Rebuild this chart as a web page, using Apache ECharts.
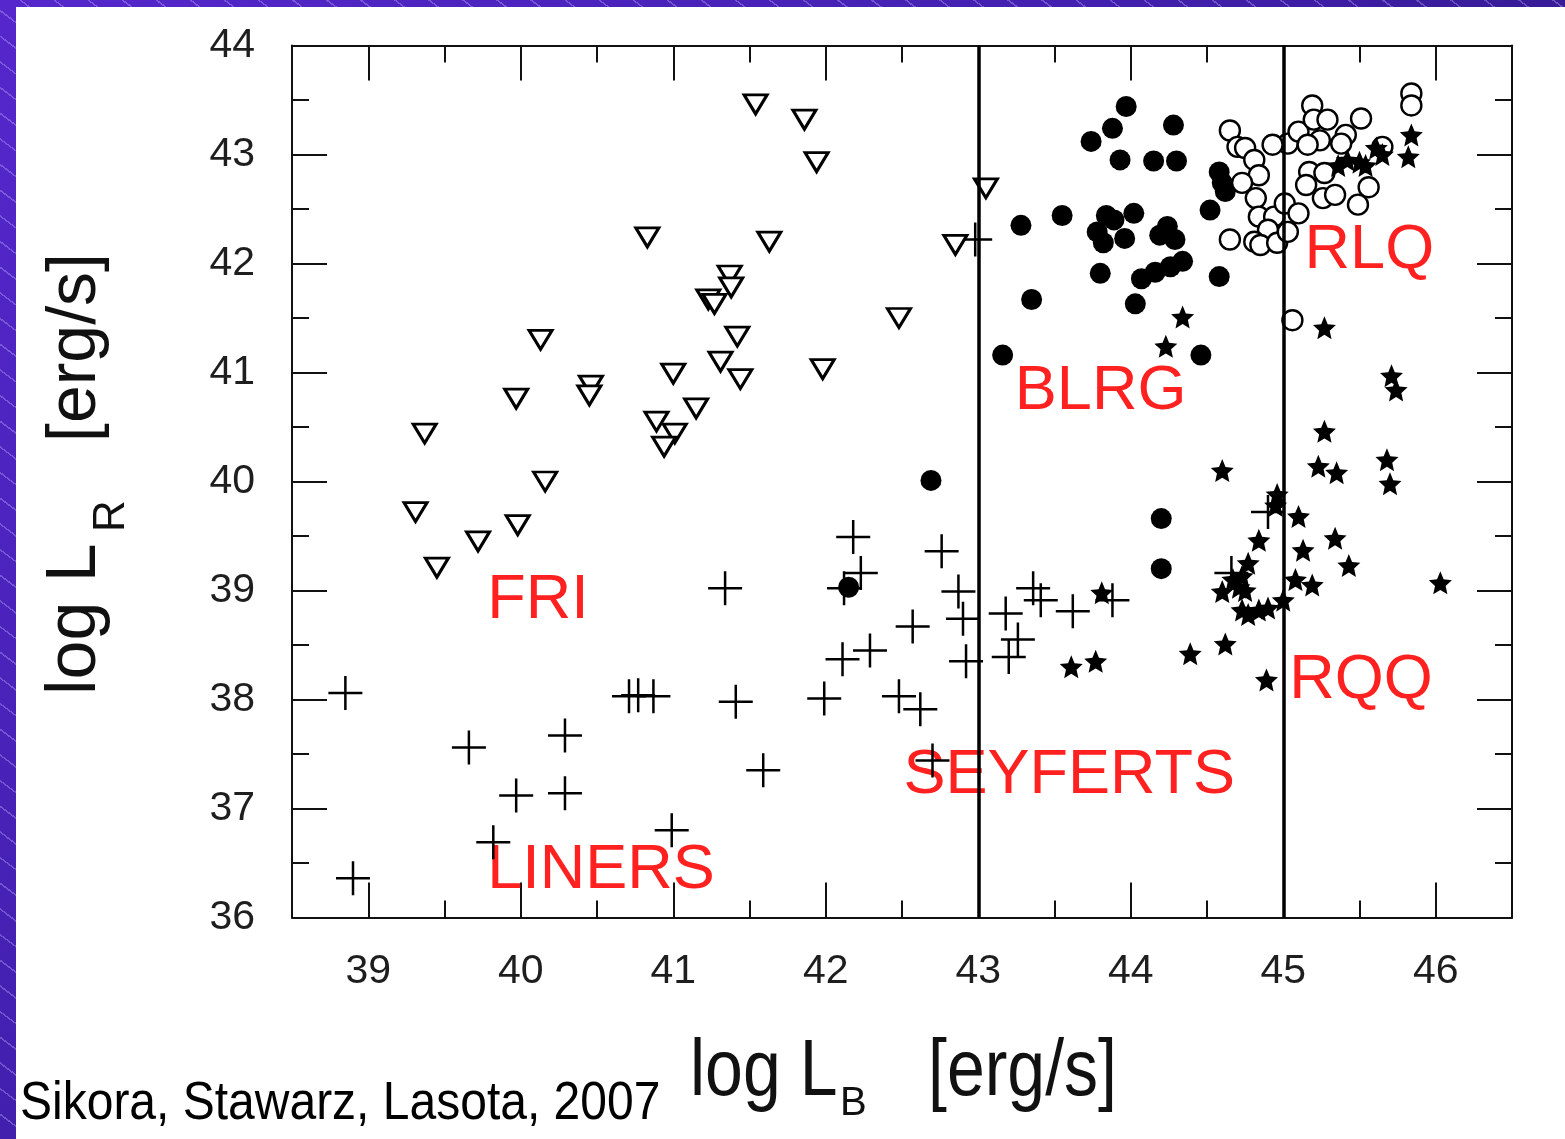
<!DOCTYPE html>
<html><head><meta charset="utf-8">
<script src="https://cdn.jsdelivr.net/npm/echarts@6/dist/echarts.min.js"></script>
<style>
html,body{margin:0;padding:0;width:1565px;height:1139px;overflow:hidden;}
body{background:
  repeating-linear-gradient(37deg, rgba(255,255,255,0) 0px, rgba(255,255,255,0) 19px, rgba(200,185,255,0.35) 19px, rgba(200,185,255,0.35) 20.5px),
  linear-gradient(135deg,#5527cc 0%,#4320b0 40%,#2c1680 75%,#22125f 100%);}
#paper{position:absolute;left:16px;top:7px;width:1549px;height:1132px;background:#fff;}
#chart{position:absolute;left:0;top:0;width:1565px;height:1139px;}
</style></head><body><div id="paper"></div><div id="chart"></div>
<script>
// ---- data (log L_B, log L_R) ----
const friData = [[41.54,43.46],[41.86,43.32],[41.94,42.93],[43.05,42.69],[40.83,42.24],[41.63,42.20],[42.85,42.17],[41.37,41.89],[41.38,41.78],[41.23,41.67],[41.27,41.63],[42.48,41.50],[40.13,41.30],[41.42,41.33],[41.31,41.10],[41.98,41.03],[41.00,40.99],[41.44,40.94],[40.46,40.88],[40.45,40.79],[39.97,40.76],[41.15,40.67],[39.37,40.44],[40.89,40.55],[41.01,40.44],[40.94,40.32],[40.16,40.00],[39.31,39.72],[39.98,39.60],[39.72,39.45],[39.45,39.21]];
const crossData = [[38.85,38.06],[39.66,37.56],[40.29,37.67],[39.97,37.12],[40.29,37.14],[39.82,36.69],[38.90,36.36],[40.99,36.80],[40.71,38.03],[40.77,38.04],[40.87,38.03],[41.41,37.98],[41.59,37.35],[41.34,39.02],[42.18,39.49],[42.23,39.16],[42.12,39.02],[42.76,39.36],[42.87,38.99],[42.90,38.74],[42.57,38.67],[42.11,38.37],[42.29,38.45],[42.92,38.35],[41.99,38.01],[42.48,38.03],[42.62,37.91],[42.70,37.44],[43.18,38.79],[43.36,39.02],[43.41,38.91],[43.62,38.81],[43.88,38.91],[43.26,38.55],[43.20,38.39],[44.90,39.72],[44.66,39.16],[42.98,42.22]];
const blrgData = [[43.97,43.44],[43.88,43.24],[43.74,43.12],[44.28,43.27],[43.93,42.95],[44.15,42.94],[44.30,42.94],[44.58,42.84],[44.60,42.74],[44.62,42.66],[44.52,42.49],[43.55,42.44],[43.28,42.35],[43.84,42.44],[44.02,42.46],[43.89,42.40],[43.78,42.29],[43.82,42.19],[43.96,42.23],[44.24,42.34],[44.29,42.22],[44.19,42.26],[44.34,42.02],[44.26,41.97],[44.16,41.92],[44.07,41.86],[43.80,41.91],[44.58,41.88],[43.35,41.67],[44.03,41.63],[43.16,41.16],[44.46,41.16],[42.69,40.01],[44.20,39.66],[44.20,39.20],[42.15,39.03]];
const rlqData = [[44.65,43.22],[44.70,43.07],[44.75,43.06],[44.81,42.95],[44.84,42.81],[44.73,42.74],[44.82,42.60],[44.84,42.43],[44.94,42.43],[44.90,42.31],[44.65,42.22],[44.81,42.20],[44.85,42.17],[44.96,42.19],[45.03,42.29],[45.01,42.55],[45.10,42.46],[45.03,43.10],[45.10,43.21],[45.19,43.45],[45.20,43.32],[45.29,43.32],[45.24,43.13],[45.16,43.09],[45.41,43.18],[45.51,43.33],[45.65,43.07],[45.38,43.10],[45.17,42.84],[45.27,42.83],[45.15,42.72],[45.26,42.60],[45.34,42.63],[45.56,42.70],[45.49,42.54],[45.84,43.56],[45.84,43.45],[44.93,43.09],[45.06,41.48]];
const rqqData = [[44.34,41.51],[44.23,41.24],[45.27,41.41],[45.71,40.97],[45.74,40.84],[45.84,43.18],[45.82,42.98],[45.36,42.90],[45.42,42.95],[45.50,42.93],[45.61,43.06],[45.65,43.00],[45.54,42.90],[45.27,40.46],[45.68,40.20],[45.23,40.14],[45.35,40.08],[45.70,39.98],[44.60,40.10],[44.96,39.88],[44.95,39.78],[45.10,39.68],[44.84,39.46],[45.13,39.37],[45.34,39.48],[45.43,39.23],[44.77,39.25],[44.73,39.13],[44.67,39.10],[45.08,39.10],[45.19,39.05],[46.03,39.07],[44.60,38.99],[44.71,39.03],[44.75,39.00],[45.00,38.91],[44.73,38.82],[44.77,38.78],[44.84,38.82],[44.90,38.84],[44.62,38.51],[44.39,38.42],[44.89,38.18],[43.81,38.98],[43.61,38.30],[43.77,38.35]];
const regionLabels = [[39.78,38.91,'FRI'],[43.24,40.82,'BLRG'],[45.14,42.12,'RLQ'],[45.04,38.17,'RQQ'],[42.51,37.30,'SEYFERTS'],[39.78,36.43,'LINERS']];
const dividers = [43, 45];
const xTicks = [39,40,41,42,43,44,45,46];
const xRange = [38.5, 46.5];
const yRange = [36, 44];
const citation = 'Sikora, Stawarz, Lasota, 2007';

const FONT = 'Liberation Sans, Arial, sans-serif';
const INK = '#111';
const chart = echarts.init(document.getElementById('chart'), null, {renderer:'canvas'});

function xAx(pos, major, labels){
  return {
    type:'value', position:pos, min:xRange[0], max:xRange[1], interval:0.5,
    axisLine:{show:!major, onZero:false, lineStyle:{color:INK,width:2}},
    axisTick: major ? {show:true, inside:true, length:35, customValues:xTicks, lineStyle:{color:INK,width:2}}
                    : {show:true, inside:true, length:17, lineStyle:{color:INK,width:2}},
    axisLabel: labels ? {show:true, customValues:xTicks, margin:34, color:'#1e1e1e', fontSize:41, fontFamily:FONT}
                      : {show:false},
    splitLine:{show:false}
  };
}
function yAx(pos, labels){
  return {
    type:'value', position:pos, min:yRange[0], max:yRange[1], interval:1,
    axisLine:{show:true, onZero:false, lineStyle:{color:INK,width:2}},
    axisTick:{show:true, inside:true, length:35, lineStyle:{color:INK,width:2}},
    minorTick:{show:true, splitNumber:2, length:17, lineStyle:{color:INK,width:2}},
    axisLabel: labels ? {show:true, margin:37, color:'#1e1e1e', fontSize:41, fontFamily:FONT} : {show:false},
    splitLine:{show:false}, minorSplitLine:{show:false}
  };
}

const triPath = 'path://M0,0 L20,0 L10,17 Z';
const crossPath = 'path://M0,10 L20,10 M10,0 L10,20';
const starPath = 'path://M10,0 L12.70,6.28 L19.51,6.91 L14.37,11.42 L15.88,18.09 L10,14.6 L4.12,18.09 L5.63,11.42 L0.49,6.91 L7.30,6.28 Z';

const option = {
  animation:false,
  backgroundColor:'transparent',
  grid:{left:292, top:45.5, right:53, bottom:221.5, containLabel:false},
  xAxis:[xAx('bottom',false,true), xAx('bottom',true,false), xAx('top',false,false), xAx('top',true,false)],
  yAxis:[yAx('left',true), yAx('right',false)],
  series:[
    {name:'region labels', type:'scatter', z:3, symbolSize:0, silent:true,
     data:regionLabels, itemStyle:{opacity:1},
     label:{show:true, position:'right', distance:0, formatter:p=>p.data[2], color:'#ff2020', opacity:1, fontSize:63, fontFamily:FONT}},
    {name:'LINERs / Seyferts', type:'scatter', z:4, data:crossData, symbol:crossPath, symbolSize:34,
     itemStyle:{color:'rgba(0,0,0,0)', borderColor:'#000', borderWidth:2.5, opacity:1}},
    {name:'FRI', type:'scatter', z:4, data:friData, symbol:triPath, symbolSize:[23,19],
     itemStyle:{color:'#fff', borderColor:'#000', borderWidth:3, opacity:1}},
    {name:'BLRG', type:'scatter', z:4, data:blrgData, symbol:'circle', symbolSize:21,
     itemStyle:{color:'#000', opacity:1}},
    {name:'RLQ', type:'scatter', z:4, data:rlqData, symbol:'circle', symbolSize:20,
     itemStyle:{color:'#fff', borderColor:'#000', borderWidth:2.4, opacity:1}},
    {name:'RQQ', type:'scatter', z:4, data:rqqData, symbol:starPath, symbolSize:23,
     itemStyle:{color:'#000', opacity:1}},
    {name:'dividers', type:'scatter', z:6, data:[], 
     markLine:{silent:true, symbol:'none', label:{show:false},
       lineStyle:{color:'#000', width:3.5, type:'solid', opacity:1},
       data:dividers.map(v=>({xAxis:v}))}}
  ],
  graphic:[
    {type:'text', x:690, y:1073, scaleY:1.17, z:10,
     style:{text:'log L', fontSize:68, fontFamily:FONT, fill:INK, align:'left', verticalAlign:'middle'}},
    {type:'text', x:840, y:1104, z:10,
     style:{text:'B', fontSize:40, fontFamily:FONT, fill:INK, align:'left', verticalAlign:'middle'}},
    {type:'text', x:928, y:1073, scaleY:1.17, z:10,
     style:{text:'[erg/s]', fontSize:68, fontFamily:FONT, fill:INK, align:'left', verticalAlign:'middle'}},
    {type:'group', x:76, y:695, rotation:Math.PI/2, z:10, children:[
      {type:'text', x:0, y:0, style:{text:'log L', fontSize:70, fontFamily:FONT, fill:INK, align:'left', verticalAlign:'middle'}},
      {type:'text', x:163, y:36, style:{text:'R', fontSize:44, fontFamily:FONT, fill:INK, align:'left', verticalAlign:'middle'}},
      {type:'text', x:253, y:0, style:{text:'[erg/s]', fontSize:68, fontFamily:FONT, fill:INK, align:'left', verticalAlign:'middle'}}
    ]},
    {type:'text', x:20, y:1104, scaleY:1.12, z:10,
     style:{text:citation, fontSize:48, fontFamily:FONT, fill:'#000', align:'left', verticalAlign:'middle'}}
  ]
};
chart.setOption(option);
</script></body></html>
